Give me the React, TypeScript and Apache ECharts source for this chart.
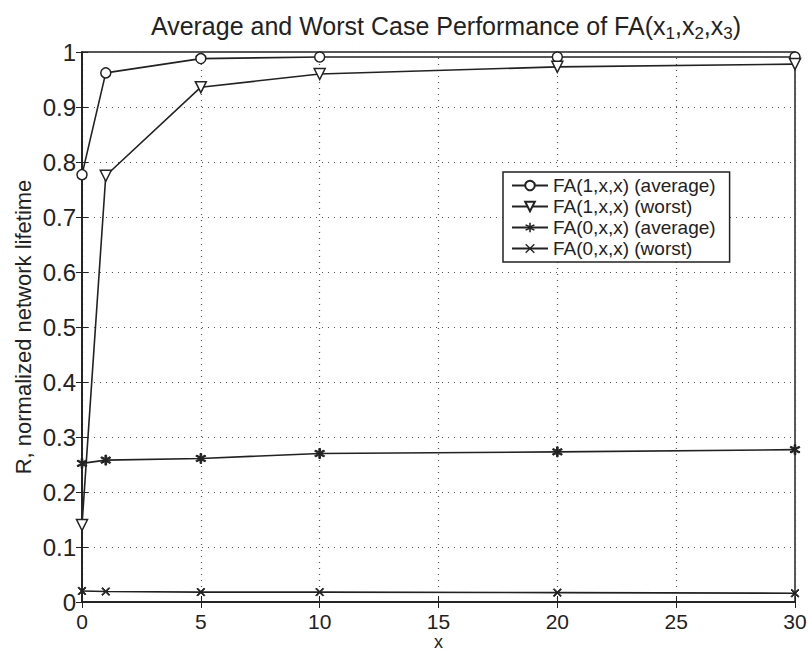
import React, { useEffect, useRef } from "react";
import * as echarts from "echarts";

const xValues = [0, 1, 5, 10, 20, 30];
const fa1Average = [0.777, 0.962, 0.988, 0.991, 0.991, 0.991];
const fa1Worst = [0.14, 0.775, 0.936, 0.96, 0.973, 0.978];
const fa0Average = [0.252, 0.258, 0.261, 0.27, 0.273, 0.277];
const fa0Worst = [0.02, 0.019, 0.018, 0.018, 0.017, 0.016];
const seriesNames = [
  "FA(1,x,x) (average)",
  "FA(1,x,x) (worst)",
  "FA(0,x,x) (average)",
  "FA(0,x,x) (worst)",
];

const FONT = "Liberation Sans, Arial, Helvetica, sans-serif";
const INK = "#222";

const crossPath =
  "path://M0,1 L1,0 L5,4 L9,0 L10,1 L6,5 L10,9 L9,10 L5,6 L1,10 L0,9 L4,5 Z";
const starPath =
  "path://M4.3,0 L5.7,0 L5.7,3.3 L8.6,1.6 L9.3,2.8 L6.4,4.5 L6.4,5.5 L9.3,7.2 L8.6,8.4 L5.7,6.7 L5.7,10 L4.3,10 L4.3,6.7 L1.4,8.4 L0.7,7.2 L3.6,5.5 L3.6,4.5 L0.7,2.8 L1.4,1.6 L4.3,3.3 Z";

export default function App() {
  const ref = useRef<HTMLDivElement>(null);
  useEffect(() => {
    if (!ref.current) return;
    const chart = echarts.init(ref.current, undefined, { renderer: "svg" });
    const toPairs = (ys: number[]) => xValues.map((x, i) => [x, ys[i]]);
    const lineCommon = {
      type: "line" as const,
      lineStyle: { color: INK, width: 1.6 },
      itemStyle: { color: INK, borderColor: INK },
      emphasis: { disabled: true },
    };
    chart.setOption({
      animation: false,
      backgroundColor: "#fff",
      title: {
        text: "Average and Worst Case Performance of FA(x{sub|1},x{sub|2},x{sub|3})",
        left: 441,
        textAlign: "center",
        top: 5,
        textStyle: {
          fontFamily: FONT,
          fontSize: 25,
          fontWeight: "normal",
          color: INK,
          rich: {
            sub: { fontFamily: FONT, fontSize: 17, color: INK, padding: [15, 0, 0, 0] },
          },
        },
      },
      grid: {
        left: 82,
        right: 13,
        top: 52,
        bottom: 49,
        outerBoundsMode: "none",
        containLabel: false,
        show: true,
        borderColor: INK,
        borderWidth: 1.5,
        backgroundColor: "transparent",
      },
      legend: {
        left: 503,
        top: 172,
        orient: "vertical",
        backgroundColor: "#fff",
        borderColor: INK,
        borderWidth: 1.5,
        borderRadius: 0,
        padding: [4, 14, 4, 8],
        itemGap: 2,
        itemWidth: 36,
        itemHeight: 12,
        textStyle: { fontFamily: FONT, fontSize: 19, color: INK },
        data: seriesNames,
      },
      xAxis: [
        {
          type: "value",
          min: 0,
          max: 30,
          interval: 5,
          name: "x",
          nameLocation: "middle",
          nameGap: 40,
          nameMoveOverlap: false,
          nameTextStyle: {
            fontFamily: FONT,
            fontSize: 18,
            color: INK,
            verticalAlign: "middle",
          },
          axisLine: { show: true, lineStyle: { color: INK, width: 1.5 } },
          axisTick: { show: true, inside: true, length: 6, lineStyle: { color: INK } },
          axisLabel: { fontFamily: FONT, fontSize: 21, color: INK, margin: 9 },
          splitLine: { show: true, lineStyle: { color: "#555", type: [1, 5], width: 1.2 } },
        },
        {
          type: "value",
          position: "top",
          min: 0,
          max: 30,
          interval: 5,
          axisLine: { show: true, lineStyle: { color: INK, width: 1.5 } },
          axisTick: { show: true, inside: true, length: 6, lineStyle: { color: INK } },
          axisLabel: { show: false },
          splitLine: { show: false },
        },
      ],
      yAxis: [
        {
          type: "value",
          min: 0,
          max: 1,
          interval: 0.1,
          name: "R, normalized network lifetime",
          nameLocation: "middle",
          nameGap: 48,
          nameMoveOverlap: false,
          nameTextStyle: { fontFamily: FONT, fontSize: 22, color: INK },
          axisLine: { show: true, lineStyle: { color: INK, width: 1.5 } },
          axisTick: { show: true, inside: true, length: 6, lineStyle: { color: INK } },
          axisLabel: {
            fontFamily: FONT,
            fontSize: 24,
            color: INK,
            margin: 6,
            formatter: (v: number) => String(Math.round(v * 10) / 10),
          },
          splitLine: { show: true, lineStyle: { color: "#555", type: [1, 5], width: 1.2 } },
        },
        {
          type: "value",
          position: "right",
          min: 0,
          max: 1,
          interval: 0.1,
          axisLine: { show: true, lineStyle: { color: INK, width: 1.5 } },
          axisTick: { show: true, inside: true, length: 6, lineStyle: { color: INK } },
          axisLabel: { show: false },
          splitLine: { show: false },
        },
      ],
      series: [
        {
          ...lineCommon,
          name: seriesNames[0],
          data: toPairs(fa1Average),
          symbol: "circle",
          symbolSize: 10,
          itemStyle: { color: "#fff", borderColor: INK, borderWidth: 1.5 },
        },
        {
          ...lineCommon,
          name: seriesNames[1],
          data: toPairs(fa1Worst),
          symbol: "triangle",
          symbolRotate: 180,
          symbolSize: 11,
          itemStyle: { color: "#fff", borderColor: INK, borderWidth: 1.5 },
        },
        {
          ...lineCommon,
          name: seriesNames[2],
          data: toPairs(fa0Average),
          symbol: starPath,
          symbolSize: 10,
        },
        {
          ...lineCommon,
          name: seriesNames[3],
          data: toPairs(fa0Worst),
          symbol: crossPath,
          symbolSize: 8,
        },
      ],
    });
    return () => chart.dispose();
  }, []);
  return <div ref={ref} style={{ width: 808, height: 651, position: "absolute", left: 0, top: 0 }} />;
}
